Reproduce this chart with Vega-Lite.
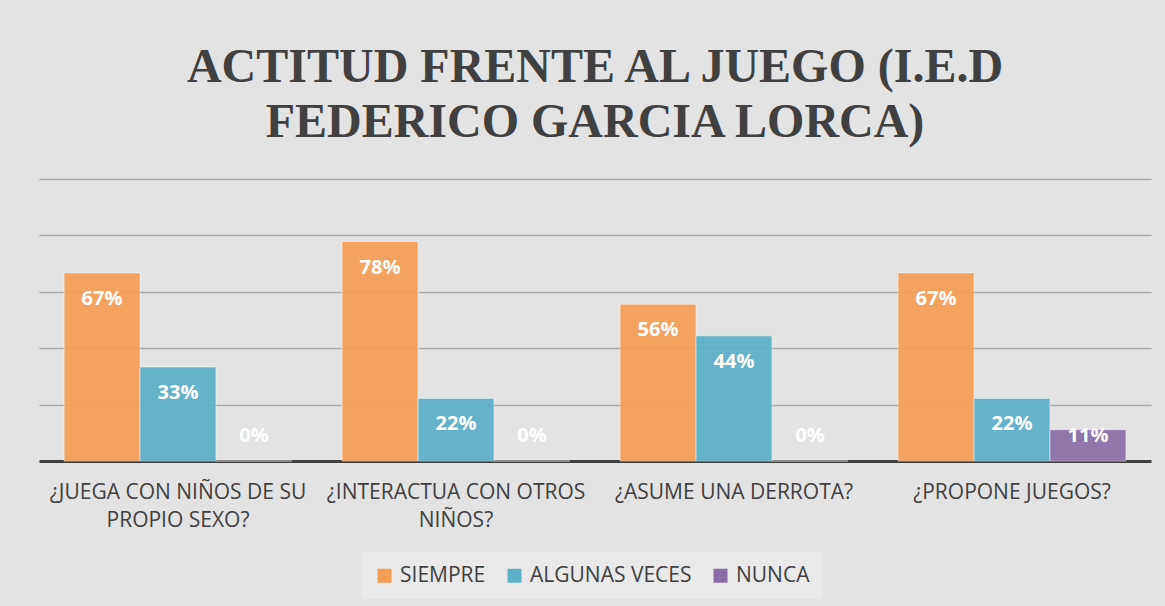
{
  "$schema": "https://vega.github.io/schema/vega-lite/v6.json",
  "autosize": "none",
  "width": 1112,
  "height": 282,
  "padding": {"left": 39, "top": 179, "right": 14, "bottom": 145},
  "background": "#e3e3e3",
  "config": {"view": {"stroke": null}},
  "title": {
    "text": ["ACTITUD FRENTE AL JUEGO (I.E.D", "FEDERICO GARCIA LORCA)"],
    "font": "Liberation Serif",
    "fontSize": 48,
    "fontWeight": "bold",
    "color": "#404040",
    "lineHeight": 55,
    "offset": 32,
    "anchor": "middle"
  },
  "data": {
    "values": [
      {"pregunta": "¿JUEGA CON NIÑOS DE SU PROPIO SEXO?", "serie": "SIEMPRE", "valor": 0.667},
      {"pregunta": "¿JUEGA CON NIÑOS DE SU PROPIO SEXO?", "serie": "ALGUNAS VECES", "valor": 0.333},
      {"pregunta": "¿JUEGA CON NIÑOS DE SU PROPIO SEXO?", "serie": "NUNCA", "valor": 0},
      {"pregunta": "¿INTERACTUA CON OTROS NIÑOS?", "serie": "SIEMPRE", "valor": 0.778},
      {"pregunta": "¿INTERACTUA CON OTROS NIÑOS?", "serie": "ALGUNAS VECES", "valor": 0.222},
      {"pregunta": "¿INTERACTUA CON OTROS NIÑOS?", "serie": "NUNCA", "valor": 0},
      {"pregunta": "¿ASUME UNA DERROTA?", "serie": "SIEMPRE", "valor": 0.556},
      {"pregunta": "¿ASUME UNA DERROTA?", "serie": "ALGUNAS VECES", "valor": 0.444},
      {"pregunta": "¿ASUME UNA DERROTA?", "serie": "NUNCA", "valor": 0},
      {"pregunta": "¿PROPONE JUEGOS?", "serie": "SIEMPRE", "valor": 0.667},
      {"pregunta": "¿PROPONE JUEGOS?", "serie": "ALGUNAS VECES", "valor": 0.222},
      {"pregunta": "¿PROPONE JUEGOS?", "serie": "NUNCA", "valor": 0.111}
    ]
  },
  "encoding": {
    "x": {
      "field": "pregunta",
      "type": "nominal",
      "sort": null,
      "scale": {"paddingInner": 0, "paddingOuter": 0},
      "axis": {
        "title": null,
        "labelAngle": 0,
        "ticks": false,
        "domain": true,
        "domainColor": "#404040",
        "domainWidth": 3,
        "labelFont": "Open Sans",
        "labelFontSize": 21,
        "labelColor": "#404040",
        "labelPadding": 20,
        "labelLimit": 300,
        "labelLineHeight": 28,
        "labelExpr": "datum.label == '¿JUEGA CON NIÑOS DE SU PROPIO SEXO?' ? ['¿JUEGA CON NIÑOS DE SU', 'PROPIO SEXO?'] : datum.label == '¿INTERACTUA CON OTROS NIÑOS?' ? ['¿INTERACTUA CON OTROS', 'NIÑOS?'] : datum.label"
      }
    },
    "xOffset": {
      "field": "serie",
      "type": "nominal",
      "sort": ["SIEMPRE", "ALGUNAS VECES", "NUNCA"],
      "scale": {"paddingOuter": 0.33, "paddingInner": 0}
    }
  },
  "layer": [
    {
      "mark": {"type": "bar", "opacity": 0.92, "stroke": "#ffffff", "strokeOpacity": 0.5, "strokeWidth": 1},
      "encoding": {
        "y": {
          "field": "valor",
          "type": "quantitative",
          "scale": {"domain": [0, 1], "nice": false},
          "axis": {
            "title": null,
            "labels": false,
            "ticks": false,
            "domain": false,
            "values": [0.2, 0.4, 0.6, 0.8, 1],
            "gridColor": "#aaaaaa",
            "gridWidth": 1.5
          }
        },
        "color": {
          "field": "serie",
          "type": "nominal",
          "sort": ["SIEMPRE", "ALGUNAS VECES", "NUNCA"],
          "scale": {"domain": ["SIEMPRE", "ALGUNAS VECES", "NUNCA"], "range": ["#F59D55", "#5BB0C8", "#8A6DA6"]},
          "legend": {
            "orient": "none",
            "legendX": 322,
            "legendY": 373,
            "direction": "horizontal",
            "title": null,
            "fillColor": "#e9e9e9",
            "padding": 13,
            "symbolType": "square",
            "symbolSize": 196,
            "symbolStrokeWidth": 0,
            "symbolOpacity": 1,
            "labelOffset": 5,
            "labelFont": "Open Sans",
            "labelFontSize": 21,
            "labelColor": "#404040",
            "labelLimit": 300,
            "columnPadding": 18
          }
        }
      }
    },
    {
      "transform": [{"calculate": "max(datum.valor - 0.0925, 0.089)", "as": "pos"}],
      "mark": {"type": "text", "font": "Open Sans", "fontWeight": "bold", "fontSize": 20, "color": "#ffffff", "baseline": "middle", "align": "center"},
      "encoding": {
        "y": {"field": "pos", "type": "quantitative"},
        "text": {"field": "valor", "type": "quantitative", "format": ".0%"}
      }
    }
  ]
}
